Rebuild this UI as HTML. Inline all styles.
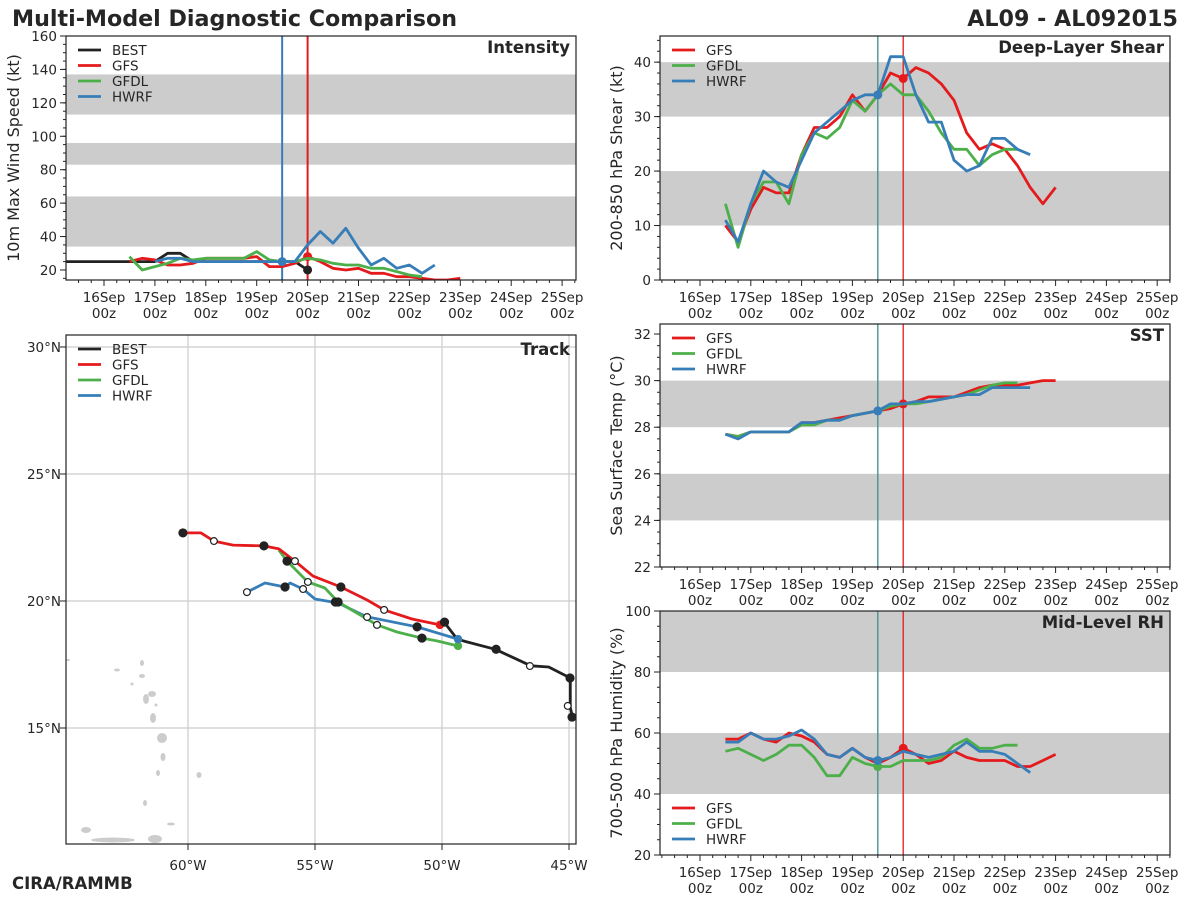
<!DOCTYPE html>
<html><head><meta charset="utf-8">
<style>
html,body{margin:0;padding:0;background:#fff;}
svg{display:block;font-family:"DejaVu Sans","Liberation Sans",sans-serif;}
</style></head>
<body>
<svg id="fig" width="1200" height="900" viewBox="0 0 1200 900" xmlns="http://www.w3.org/2000/svg">
<text x="12" y="26" font-size="22.2" font-weight="bold" fill="#262626">Multi-Model Diagnostic Comparison</text>
<text x="1178" y="26" font-size="22.2" font-weight="bold" fill="#262626" text-anchor="end">AL09 - AL092015</text>
<text x="12" y="889" font-size="16.5" font-weight="bold" fill="#262626">CIRA/RAMMB</text>
</svg>
<script>
// ---- data (6-hourly, times in days since 16Sep 00z) ----
const dayLabels = ["16Sep","17Sep","18Sep","19Sep","20Sep","21Sep","22Sep","23Sep","24Sep","25Sep"];
const bestStart = -0.75;
const bestIntensity = [25,25,25,25,25,25,25,25,30,30,25,25,25,25,25,25,25,25,25,20];
const gfsStart = 0.5;
const gfsIntensity = [25,27,26,23,23,24,27,27,27,27,28,22,22,24,28,25,21,20,21,18,18,16,16,15,14,14,15];
const gfdlIntensity = [28,20,22,24,27,26,27,27,27,27,31,26,25,25,27,26,24,23,23,21,21,19,17,16];
const hwrfIntStart = 1.0;
const hwrfIntensity = [25,27,27,25,25,25,25,25,25,25,25,25,35,43,36,45,33,23,27,21,23,18,23];
const intensityTicks = [20,40,60,80,100,120,140,160];

const modelStart = 0.5;
const gfsShear = [10,7,13,17,16,16,23,28,28,30,34,31,34,38,37,39,38,36,33,27,24,25,24,21,17,14,17];
const gfdlShear = [14,6,14,18,18,14,23,27,26,28,33,31,34,36,34,34,31,27,24,24,21,23,24,24];
const hwrfShear = [11,7,14,20,18,17,22,27,29,31,33,34,34,41,41,34,29,29,22,20,21,26,26,24,23];
const shearTicks = [0,10,20,30,40];

const gfsSST = [27.7,27.6,27.8,27.8,27.8,27.8,28.2,28.2,28.3,28.4,28.5,28.6,28.7,28.8,29.0,29.1,29.3,29.3,29.3,29.5,29.7,29.8,29.8,29.8,29.9,30.0,30.0];
const gfdlSST = [27.7,27.6,27.8,27.8,27.8,27.8,28.1,28.1,28.3,28.3,28.5,28.6,28.7,28.9,29.0,29.0,29.1,29.2,29.3,29.4,29.6,29.8,29.9,29.9];
const hwrfSST = [27.7,27.5,27.8,27.8,27.8,27.8,28.2,28.2,28.3,28.3,28.5,28.6,28.7,29.0,29.0,29.1,29.1,29.2,29.3,29.4,29.4,29.7,29.7,29.7,29.7];
const sstTicks = [22,24,26,28,30,32];

const gfsRH = [58,58,60,58,57,60,59,57,53,52,55,52,50,52,55,53,50,51,54,52,51,51,51,49,49,51,53];
const gfdlRH = [54,55,53,51,53,56,56,52,46,46,52,50,49,49,51,51,51,52,56,58,55,55,56,56];
const hwrfRH = [57,57,60,58,58,59,61,58,53,52,55,52,51,52,54,53,52,53,54,57,54,54,53,50,47];
const rhTicks = [20,40,60,80,100];

// track [lon, lat]
const bestTrackLon = [-49.9,-49.4,-49.06,-47.9,-46.5,-45.8,-44.95,-44.95,-44.85];
const bestTrackLat = [19.15,18.5,18.4,18.1,17.45,17.4,16.97,15.8,15.4];
const gfsTrackLon = [-50.08,-51.18,-52.28,-52.95,-53.98,-55.08,-55.79,-56.42,-57.01,-58.23,-58.98,-59.49,-60.2];
const gfsTrackLat = [19.06,19.29,19.65,20.04,20.55,20.98,21.57,22.05,22.17,22.2,22.36,22.68,22.68];
const gfdlTrackLon = [-49.37,-50.2,-50.79,-51.77,-52.56,-52.95,-54.09,-54.61,-55.28,-56.1,-56.42];
const gfdlTrackLat = [18.23,18.43,18.54,18.78,19.06,19.29,19.96,20.51,20.75,21.57,22.0];
const hwrfTrackLon = [-49.37,-50.98,-52.72,-52.95,-54.09,-55.0,-55.47,-55.98,-56.18,-56.97,-57.68];
const hwrfTrackLat = [18.5,18.98,19.33,19.37,19.92,20.08,20.47,20.71,20.55,20.71,20.35];
// position markers [lon, lat, filled(1)/open(0)]
const bestMarks = [[-49.9,19.17,1],[-47.87,18.1,1],[-46.54,17.44,0],[-44.96,16.97,1],[-45.05,15.87,0],[-44.88,15.43,1]];
const gfsMarks = [[-60.2,22.68,1],[-58.98,22.36,0],[-57.01,22.17,1],[-55.79,21.57,0],[-53.98,20.55,1],[-52.28,19.65,0]];
const gfdlMarks = [[-56.1,21.57,1],[-55.28,20.75,0],[-54.09,19.96,1],[-52.56,19.06,0],[-50.79,18.54,1]];
const hwrfMarks = [[-57.68,20.35,0],[-56.18,20.55,1],[-55.47,20.47,0],[-54.2,19.96,1],[-52.95,19.37,0],[-50.98,18.98,1]];
const lonTicks = [-60,-55,-50,-45];
const latTicks = [15,20,25,30];

const C = {BEST:"#222222",GFS:"#e41a1c",GFDL:"#4daf4a",HWRF:"#377eb8"};
const NS="http://www.w3.org/2000/svg";
const svg=document.getElementById('fig');
function mk(tag,attrs,parent){const e=document.createElementNS(NS,tag);for(const k in attrs)e.setAttribute(k,attrs[k]);(parent||svg).appendChild(e);return e;}
function txt(s,attrs,parent){const e=mk('text',attrs,parent);e.textContent=s;return e;}
let clipN=0;

function timePanel(cfg){
  const g=mk('g',{});
  
  
  const X=t=>cfg.x0+t*cfg.ppd;
  const Y=v=>cfg.b-(v-cfg.ymin)/(cfg.ymax-cfg.ymin)*(cfg.b-cfg.t);
  const cid='clip'+(clipN++);
  const cp=mk('clipPath',{id:cid},g);mk('rect',{x:cfg.l,y:cfg.t,width:cfg.r-cfg.l,height:cfg.b-cfg.t},cp);
  const inner=mk('g',{'clip-path':'url(#'+cid+')'},g);
  cfg.bands.forEach(bd=>{
    const r=mk('rect',{x:cfg.l,y:Y(bd[1]),width:cfg.r-cfg.l,height:Y(bd[0])-Y(bd[1]),fill:'#cccccc'},inner);
    
    
  });
  cfg.vlines.forEach(v=>{mk('line',{x1:X(v[0]),x2:X(v[0]),y1:cfg.t,y2:cfg.b,stroke:v[1],'stroke-width':cfg.vw||1.3},inner);});
  cfg.series.forEach(s=>{
    const pts=s.vals.map((v,i)=>X(s.start+i*0.25).toFixed(1)+','+Y(v).toFixed(1)).join(' ');
    const p=mk('polyline',{points:pts,fill:'none',stroke:C[s.m],'stroke-width':2.8,'stroke-linejoin':'round'},inner);
    
    
    if(s.dot!==undefined){const i=Math.round((s.dot-s.start)/0.25);
      const d=mk('circle',{cx:X(s.dot),cy:Y(s.vals[i]),r:4.5,fill:C[s.m]},inner);
      
      }
  });
  mk('rect',{x:cfg.l,y:cfg.t,width:cfg.r-cfg.l,height:cfg.b-cfg.t,fill:'none',stroke:'#222','stroke-width':1.2},g);
  for(let v=cfg.ymin;v<=cfg.ymax+1e-6;v+=cfg.minor){const v2=Math.round(v/cfg.minor)*cfg.minor;
    if(v2<cfg.ymin-1e-6) continue; mk('line',{x1:cfg.l-3,x2:cfg.l,y1:Y(v2),y2:Y(v2),stroke:'#222','stroke-width':1},g);}
  cfg.ticks.forEach(v=>{mk('line',{x1:cfg.l-6,x2:cfg.l,y1:Y(v),y2:Y(v),stroke:'#222','stroke-width':1},g);
    const tl=txt(String(v),{x:cfg.l-9,y:Y(v)+5,'font-size':13.5,'text-anchor':'end',fill:'#262626'},g);
    
    });
  for(let t=-0.75;t<=9.25;t+=0.25){const x=X(t);if(x<cfg.l||x>cfg.r)continue;
    const maj=Math.abs(t-Math.round(t))<1e-6;
    mk('line',{x1:x,x2:x,y1:cfg.b,y2:cfg.b+(maj?6:3),stroke:'#222','stroke-width':1},g);}
  dayLabels.forEach((d,i)=>{const x=X(i);
    const a=txt(d,{x:x,y:cfg.b+22,'font-size':13.5,'text-anchor':'middle',fill:'#262626'},g);
    
    
    txt('00z',{x:x,y:cfg.b+38,'font-size':13.5,'text-anchor':'middle',fill:'#262626'},g);});
  const yl=txt(cfg.ylabel,{x:0,y:0,'font-size':16,'text-anchor':'middle',fill:'#262626',transform:`translate(${cfg.ylx},${(cfg.t+cfg.b)/2}) rotate(-90)`},g);
  
  
  const tt=txt(cfg.title,{x:cfg.r-6,y:cfg.t+17,'font-size':16.5,'font-weight':'bold','text-anchor':'end',fill:'#262626'},g);
  
  
  legend(g,cfg.l+12,cfg.legY,cfg.series.map(s=>s.m));
}
function legend(g,x,y,names){
  const lg=mk('g',{},g);
  
  
  names.forEach((n,i)=>{const yy=y+i*15.5;
    mk('line',{x1:x,x2:x+23,y1:yy,y2:yy,stroke:C[n],'stroke-width':2.8},lg);
    const e=txt(n,{x:x+34,y:yy+5,'font-size':13.5,fill:'#262626'},lg);
    
    });
}

timePanel({name:'intensity',l:66,r:576,t:36,b:280,x0:104,ppd:50.9,ymin:14.0,ymax:160,ticks:intensityTicks,minor:5,vw:2,
  bands:[[34,64],[83,96],[113,137]],vlines:[[3.5,'#377eb8'],[4.0,'#e41a1c']],
  series:[{m:'BEST',start:bestStart,vals:bestIntensity,dot:4.0},{m:'GFS',start:gfsStart,vals:gfsIntensity,dot:4.0},{m:'GFDL',start:gfsStart,vals:gfdlIntensity},{m:'HWRF',start:hwrfIntStart,vals:hwrfIntensity,dot:3.5}],
  ylabel:'10m Max Wind Speed (kt)',ylx:19,title:'Intensity',legY:50});
timePanel({name:'shear',l:660,r:1170,t:36,b:280,x0:700,ppd:50.8,ymin:0,ymax:44.8,ticks:shearTicks,minor:2,
  bands:[[10,20],[30,40]],vlines:[[3.5,'#3d8c8c'],[4.0,'#e41a1c']],
  series:[{m:'GFS',start:modelStart,vals:gfsShear,dot:4.0},{m:'GFDL',start:modelStart,vals:gfdlShear},{m:'HWRF',start:modelStart,vals:hwrfShear,dot:3.5}],
  ylabel:'200-850 hPa Shear (kt)',ylx:622,title:'Deep-Layer Shear',legY:50});
timePanel({name:'sst',l:660,r:1170,t:324,b:567,x0:700,ppd:50.8,ymin:22,ymax:32.43,ticks:sstTicks,minor:0.5,
  bands:[[24,26],[28,30]],vlines:[[3.5,'#3d8c8c'],[4.0,'#e41a1c']],
  series:[{m:'GFS',start:modelStart,vals:gfsSST,dot:4.0},{m:'GFDL',start:modelStart,vals:gfdlSST},{m:'HWRF',start:modelStart,vals:hwrfSST,dot:3.5}],
  ylabel:'Sea Surface Temp (°C)',ylx:622,title:'SST',legY:338});
timePanel({name:'rh',l:660,r:1170,t:611,b:855,x0:700,ppd:50.8,ymin:20,ymax:100,ticks:rhTicks,minor:5,
  bands:[[40,60],[80,100]],vlines:[[3.5,'#3d8c8c'],[4.0,'#e41a1c']],
  series:[{m:'GFS',start:modelStart,vals:gfsRH,dot:4.0},{m:'GFDL',start:modelStart,vals:gfdlRH,dot:3.5},{m:'HWRF',start:modelStart,vals:hwrfRH,dot:3.5}],
  ylabel:'700-500 hPa Humidity (%)',ylx:622,title:'Mid-Level RH',legY:808});

// ---- track panel ----
(function(){
  const L=66,R=576,T=335,B=844;
  const X=lon=>188+(lon+60)*25.4, Y=lat=>601-(lat-20)*25.4;
  const g=mk('g',{});
  
  
  const cp=mk('clipPath',{id:'trk'},g);mk('rect',{x:L,y:T,width:R-L,height:B-T},cp);
  const inner=mk('g',{'clip-path':'url(#trk)'},g);
  lonTicks.forEach(v=>mk('line',{x1:X(v),x2:X(v),y1:T,y2:B,stroke:'#cccccc','stroke-width':1.2},inner));
  latTicks.forEach(v=>mk('line',{x1:L,x2:R,y1:Y(v),y2:Y(v),stroke:'#cccccc','stroke-width':1.2},inner));
  const isl=[[142,663,2,3],[117,670,3,1.5],[142,676,3,2],[132,684,1.5,1.5],[146,699,3,5],[152,694,4,3],[156,705,1.5,1.5],[153,718,3,5],[162,738,5,5],[163,757,2.5,4],[158,773,2,3],[199,775,2.5,3],[145,803,2,3],[171,824,4,1.5],[86,830,5,3],[113,840,22,2.5],[155,839,7,4],[68,660,2,1]];
  const lg=mk('g',{fill:'#cccccc'},inner);
  
  
  isl.forEach(a=>mk('ellipse',{cx:a[0],cy:a[1],rx:a[2],ry:a[3]},lg));
  const tracks=[['HWRF',hwrfTrackLon,hwrfTrackLat],['GFDL',gfdlTrackLon,gfdlTrackLat],['GFS',gfsTrackLon,gfsTrackLat],['BEST',bestTrackLon,bestTrackLat]];
  tracks.forEach(tk=>{
    const pts=tk[1].map((lon,i)=>X(lon).toFixed(1)+','+Y(tk[2][i]).toFixed(1)).join(' ');
    const p=mk('polyline',{points:pts,fill:'none',stroke:C[tk[0]],'stroke-width':2.8,'stroke-linejoin':'round'},inner);
    
    
  });
  [['GFS',gfsTrackLon,gfsTrackLat],['GFDL',gfdlTrackLon,gfdlTrackLat],['HWRF',hwrfTrackLon,hwrfTrackLat]].forEach(tk=>{
    const d=mk('circle',{cx:X(tk[1][0]),cy:Y(tk[2][0]),r:4.2,fill:C[tk[0]]},inner);
    
    
  });
  [bestMarks,gfsMarks,gfdlMarks,hwrfMarks].forEach(ms=>ms.forEach(m=>{
    const c=mk('circle',{cx:X(m[0]),cy:Y(m[1]),r:m[2]?4:3.4,fill:m[2]?'#222':'#fff',stroke:'#222','stroke-width':1.2},inner);
    
    
  }));
  mk('rect',{x:L,y:T,width:R-L,height:B-T,fill:'none',stroke:'#222','stroke-width':1.2},g);
  lonTicks.forEach(v=>{mk('line',{x1:X(v),x2:X(v),y1:B,y2:B+6,stroke:'#222'},g);
    const t=txt(Math.abs(v)+'°W',{x:X(v),y:B+26,'font-size':13.5,'text-anchor':'middle',fill:'#262626'},g);
    
    });
  latTicks.forEach(v=>{mk('line',{x1:L-6,x2:L,y1:Y(v),y2:Y(v),stroke:'#222'},g);
    const t=txt(v+'°N',{x:L-5,y:Y(v)+5,'font-size':13.5,'text-anchor':'end',fill:'#262626'},g);
    
    });
  const tt=txt('Track',{x:R-6,y:T+20,'font-size':16.5,'font-weight':'bold','text-anchor':'end',fill:'#262626'},g);
  
  
  legend(g,L+12,349,['BEST','GFS','GFDL','HWRF']);
})();
</script>
</body></html>
